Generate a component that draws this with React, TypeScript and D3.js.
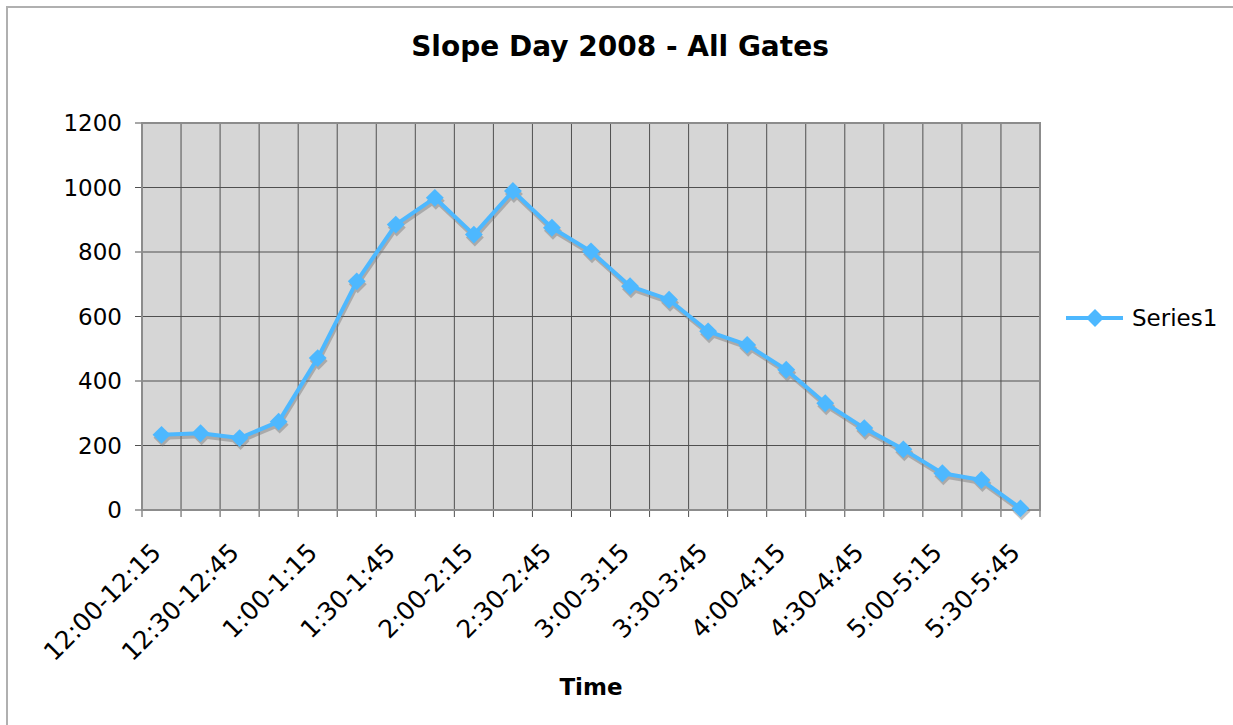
import { useEffect, useRef } from 'react';
import * as d3 from 'd3';

const categories = [
  '12:00-12:15', '12:15-12:30', '12:30-12:45', '12:45-1:00',
  '1:00-1:15', '1:15-1:30', '1:30-1:45', '1:45-2:00',
  '2:00-2:15', '2:15-2:30', '2:30-2:45', '2:45-3:00',
  '3:00-3:15', '3:15-3:30', '3:30-3:45', '3:45-4:00',
  '4:00-4:15', '4:15-4:30', '4:30-4:45', '4:45-5:00',
  '5:00-5:15', '5:15-5:30', '5:30-5:45',
];
const series1 = [
  233, 238, 223, 274, 471, 709, 885, 968, 854, 989, 875, 802,
  694, 652, 554, 512, 435, 331, 254, 188, 114, 93, 5,
];
const yTicks = [0, 200, 400, 600, 800, 1000, 1200];

const W = 1233;
const H = 725;
const FONT = '"DejaVu Sans", Verdana, sans-serif';
const BLUE = '#4db8ff';

const CHART = {
  left: 142,
  right: 1040,
  top: 123,
  bottom: 510,
};

export default function App() {
  const svgRef = useRef<SVGSVGElement>(null);

  useEffect(() => {
    const svg = d3.select(svgRef.current);
    svg.selectAll('*').remove();

    const x = d3.scaleBand<string>().domain(categories).range([CHART.left, CHART.right]).padding(0);
    const y = d3.scaleLinear().domain([0, 1200]).range([CHART.bottom, CHART.top]);
    const cx = (c: string) => (x(c) as number) + x.bandwidth() / 2;

    // outer frame (only left/top visible)
    svg.append('path')
      .attr('d', `M7,${H + 5} L7,7 L${W + 5},7`)
      .attr('fill', 'none')
      .attr('stroke', '#b0b0b0')
      .attr('stroke-width', 2);

    // title
    svg.append('text')
      .attr('x', 620).attr('y', 56)
      .attr('text-anchor', 'middle')
      .attr('font-family', FONT).attr('font-weight', 'bold').attr('font-size', 28)
      .text('Slope Day 2008 - All Gates');

    // plot background
    svg.append('rect')
      .attr('x', CHART.left).attr('y', CHART.top)
      .attr('width', CHART.right - CHART.left).attr('height', CHART.bottom - CHART.top)
      .attr('fill', '#d6d6d6');

    // vertical grid + ticks at band boundaries
    const bounds = categories.map((c) => x(c) as number).concat([CHART.right]);
    svg.append('g').selectAll('line').data(bounds).join('line')
      .attr('x1', (d) => d).attr('x2', (d) => d)
      .attr('y1', CHART.top).attr('y2', CHART.bottom + 7)
      .attr('stroke', '#505050').attr('stroke-width', 1);

    // horizontal grid + ticks
    svg.append('g').selectAll('line').data(yTicks).join('line')
      .attr('x1', CHART.left - 7).attr('x2', CHART.right)
      .attr('y1', (d) => y(d)).attr('y2', (d) => y(d))
      .attr('stroke', '#505050').attr('stroke-width', 1);

    // plot border
    svg.append('rect')
      .attr('x', CHART.left).attr('y', CHART.top)
      .attr('width', CHART.right - CHART.left).attr('height', CHART.bottom - CHART.top)
      .attr('fill', 'none').attr('stroke', '#8c8c8c').attr('stroke-width', 2);

    // y labels
    svg.append('g').selectAll('text').data(yTicks).join('text')
      .attr('x', 122).attr('y', (d) => y(d))
      .attr('dy', '0.36em')
      .attr('text-anchor', 'end')
      .attr('font-family', FONT).attr('font-size', 23)
      .text((d) => d);

    // x labels, every other category
    svg.append('g').selectAll('text').data(categories.filter((_, i) => i % 2 === 0)).join('text')
      .attr('transform', (d) => `translate(${cx(d) + 1},${CHART.bottom + 44}) rotate(-45)`)
      .attr('text-anchor', 'end')
      .attr('font-family', FONT).attr('font-size', 25)
      .text((d) => d);

    // x axis title
    svg.append('text')
      .attr('x', 591).attr('y', 695)
      .attr('text-anchor', 'middle')
      .attr('font-family', FONT).attr('font-weight', 'bold').attr('font-size', 23)
      .text('Time');

    const line = d3.line<number>()
      .x((_, i) => cx(categories[i]))
      .y((d) => y(d));
    const diamond = d3.symbol().type(d3.symbolSquare).size(160);

    // shadow
    const shadow = svg.append('g').attr('transform', 'translate(1,3)').attr('opacity', 0.45);
    shadow.append('path').datum(series1)
      .attr('d', line).attr('fill', 'none').attr('stroke', '#777').attr('stroke-width', 4);
    shadow.selectAll('path.m').data(series1).join('path').attr('class', 'm')
      .attr('d', diamond)
      .attr('transform', (d, i) => `translate(${cx(categories[i])},${y(d)}) rotate(45)`)
      .attr('fill', '#777');

    // series line
    svg.append('path').datum(series1)
      .attr('d', line).attr('fill', 'none').attr('stroke', BLUE)
      .attr('stroke-width', 4).attr('stroke-linejoin', 'round');
    svg.append('g').selectAll('path').data(series1).join('path')
      .attr('d', diamond)
      .attr('transform', (d, i) => `translate(${cx(categories[i])},${y(d)}) rotate(45)`)
      .attr('fill', BLUE);

    // legend
    const lg = svg.append('g');
    lg.append('line')
      .attr('x1', 1066).attr('x2', 1123).attr('y1', 318).attr('y2', 318)
      .attr('stroke', BLUE).attr('stroke-width', 4);
    lg.append('path')
      .attr('d', diamond)
      .attr('transform', 'translate(1095,318) rotate(45)')
      .attr('fill', BLUE);
    lg.append('text')
      .attr('x', 1132).attr('y', 318).attr('dy', '0.36em')
      .attr('font-family', FONT).attr('font-size', 23)
      .text('Series1');
  }, []);

  return (
    <svg ref={svgRef} width={W} height={H}
      style={{ position: 'absolute', left: 0, top: 0, background: '#fff' }} />
  );
}
